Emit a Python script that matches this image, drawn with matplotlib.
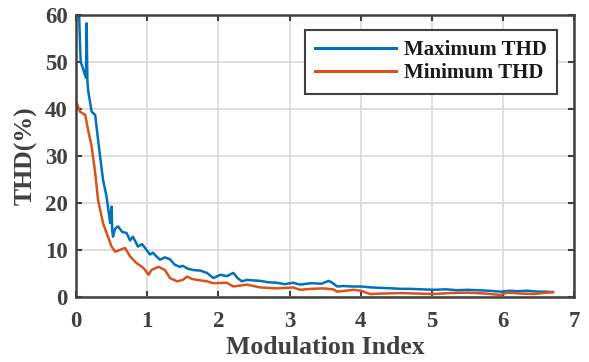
import numpy as np
import matplotlib
matplotlib.use('Agg')
import matplotlib.pyplot as plt

# Maximum THD curve
max_x = [0.04, 0.056, 0.066, 0.10, 0.14, 0.15, 0.16, 0.17, 0.22, 0.27, 0.31, 0.38, 0.43,
         0.48, 0.50, 0.51, 0.52, 0.55, 0.59, 0.65, 0.71, 0.76, 0.80, 0.87, 0.93, 0.99,
         1.04, 1.08, 1.13, 1.18, 1.25, 1.32, 1.39, 1.46, 1.50, 1.57, 1.65, 1.74, 1.84,
         1.93, 2.03, 2.12, 2.21, 2.27, 2.33, 2.40, 2.49, 2.59, 2.70, 2.82, 2.93, 3.05,
         3.15, 3.30, 3.45, 3.55, 3.60, 3.67, 3.76, 3.88, 4.00, 4.15, 4.30, 4.45, 4.56,
         4.70, 4.85, 5.03, 5.20, 5.35, 5.50, 5.65, 5.80, 5.96, 6.10, 6.20, 6.34, 6.50,
         6.60, 6.70]
max_thd = [62.0, 54.0, 50.0, 48.5, 46.6, 58.2, 46.0, 44.0, 39.4, 38.7, 33.4, 24.9, 21.3,
           15.7, 19.2, 14.0, 12.8, 14.5, 15.0, 13.8, 13.6, 12.0, 12.8, 10.7, 11.2, 10.0,
           9.0, 9.4, 8.6, 7.9, 8.4, 8.0, 6.8, 6.4, 6.6, 6.0, 5.7, 5.6, 5.1,
           4.0, 4.7, 4.4, 5.1, 4.0, 3.3, 3.6, 3.5, 3.4, 3.1, 3.0, 2.7, 3.0,
           2.6, 2.9, 2.8, 3.4, 3.0, 2.2, 2.3, 2.2, 2.2, 2.0, 1.9, 1.8, 1.7,
           1.7, 1.6, 1.5, 1.6, 1.4, 1.5, 1.4, 1.3, 1.1, 1.3, 1.2, 1.3, 1.1,
           1.1, 1.0]

# Minimum THD curve
min_x = [0.01, 0.056, 0.13, 0.17, 0.22, 0.27, 0.31, 0.38, 0.43, 0.50, 0.55, 0.62, 0.69,
         0.76, 0.85, 0.95, 1.02, 1.06, 1.16, 1.25, 1.32, 1.42, 1.50, 1.56, 1.63, 1.70,
         1.84, 1.93, 2.12, 2.21, 2.40, 2.59, 2.82, 3.05, 3.15, 3.30, 3.47, 3.61, 3.67,
         3.90, 4.00, 4.13, 4.30, 4.56, 4.80, 5.03, 5.25, 5.50, 5.75, 5.96, 6.06, 6.25,
         6.43, 6.55, 6.70]
min_thd = [41.2, 39.4, 38.7, 35.5, 32.0, 26.4, 20.6, 15.7, 13.6, 10.7, 9.6, 10.0, 10.4,
           8.6, 7.2, 6.1, 4.7, 5.7, 6.4, 5.7, 4.0, 3.3, 3.6, 4.3, 3.8, 3.6,
           3.3, 2.9, 3.0, 2.2, 2.6, 2.0, 1.8, 2.0, 1.5, 1.7, 1.8, 1.6, 1.1,
           1.5, 1.3, 0.6, 0.7, 0.8, 0.7, 0.6, 0.8, 0.9, 0.7, 0.4, 0.9, 0.7,
           0.6, 0.8, 1.0]

plt.rcParams['font.family'] = 'Liberation Serif'
plt.rcParams['font.weight'] = 'bold'
txt_col = '#404040'

fig = plt.figure(figsize=(5.89, 3.62), dpi=100)
ax = fig.add_axes([0.129, 0.180, 0.846, 0.779])

ax.plot(max_x, max_thd, color='#0072BD', linewidth=1.8, label='Maximum THD')
ax.plot(min_x, min_thd, color='#D95319', linewidth=1.8, label='Minimum THD')

ax.set_xlim(0, 7)
ax.set_ylim(0, 60)
ax.set_xticks(range(0, 8))
ax.set_yticks(range(0, 61, 10))
ax.grid(True, color='#d9d9d9', linewidth=1.2)
ax.set_axisbelow(True)

for s in ax.spines.values():
    s.set_color(txt_col)
    s.set_linewidth(1.8)
ax.tick_params(direction='in', top=True, right=True, length=4, width=1.5,
               colors=txt_col, labelsize=16.5)
ax.tick_params(axis='x', pad=10)
ax.tick_params(axis='y', pad=6)
for lab in ax.get_xticklabels() + ax.get_yticklabels():
    lab.set_fontweight('bold')

ax.set_xlabel('Modulation Index', fontsize=18.5, fontweight='bold', color=txt_col, labelpad=3)
ax.set_ylabel('THD(%)', fontsize=18.5, fontweight='bold', color=txt_col, labelpad=5)

leg = ax.legend(loc='upper right', bbox_to_anchor=(0.966, 0.947), borderaxespad=0,
                prop={'weight': 'bold', 'size': 15}, handlelength=3.85,
                handletextpad=0.4, borderpad=0.5, labelspacing=0.15,
                fancybox=False, framealpha=1)
leg.get_frame().set_edgecolor(txt_col)
leg.get_frame().set_linewidth(1.5)
for t in leg.get_texts():
    t.set_color('#1a1a1a')
for l in leg.get_lines():
    l.set_linewidth(2.2)

fig.savefig('out.png', dpi=100)
